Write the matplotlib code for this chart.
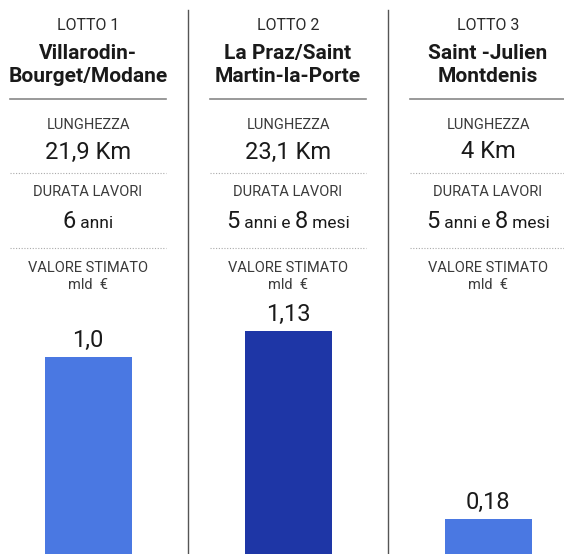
import matplotlib
matplotlib.use("Agg")
import matplotlib.pyplot as plt
import matplotlib.transforms as mtransforms
from matplotlib.offsetbox import TextArea, HPacker, AnnotationBbox

# Data
lotti = ["LOTTO 1", "LOTTO 2", "LOTTO 3"]
nomi = ["Villarodin-\nBourget/Modane", "La Praz/Saint\nMartin-la-Porte", "Saint -Julien\nMontdenis"]
lunghezza = ["21,9 Km", "23,1 Km", "4 Km"]
# durata as (text, big number?) pieces
durata = [
    [("6", True), (" anni", False)],
    [("5", True), (" anni e ", False), ("8", True), (" mesi", False)],
    [("5", True), (" anni e ", False), ("8", True), (" mesi", False)],
]
valori = [1.0, 1.13, 0.18]
valori_lbl = ["1,0", "1,13", "0,18"]
colori = ["#4a78e2", "#1e36a6", "#4a78e2"]

plt.rcParams['font.family'] = ['Roboto', 'DejaVu Sans']

W, H = 564, 554
fig = plt.figure(figsize=(W / 100, H / 100), dpi=100)
ax = fig.add_axes([0, 0, 1, 1])
ax.set_xlim(-0.44, 2.38)
ax.set_ylim(0, 554 / 197)
ax.axis('off')

x = range(len(valori))
ax.bar(x, valori, width=0.435, color=colori, zorder=2)
for i, v in enumerate(valori):
    ax.text(i, v + 0.025, valori_lbl[i], ha='center', va='bottom',
            fontsize=17, color='#1a1a1a')

trans = mtransforms.blended_transform_factory(ax.transData, ax.transAxes)


def yf(py):
    return 1 - py / H


# vertical separators
for sx in [0.5, 1.5]:
    ax.plot([sx, sx], [0, yf(10)], transform=trans, color='#555555', lw=1.0)

lab = dict(fontsize=10.5, color='#3a3a3a')
for i in x:
    ax.text(i, yf(25), lotti[i], transform=trans, ha='center', va='center',
            fontsize=11.5, color='#2a2a2a')
    ax.text(i, yf(65), nomi[i], transform=trans, ha='center', va='center',
            fontsize=15, fontweight='bold', color='#1a1a1a', linespacing=1.25)
    ax.plot([i - 0.39, i + 0.39], [yf(99), yf(99)], transform=trans,
            color='#888888', lw=1.2)
    ax.text(i, yf(125), "LUNGHEZZA", transform=trans, ha='center', va='center', **lab)
    ax.text(i, yf(152), lunghezza[i], transform=trans, ha='center', va='center',
            fontsize=17, color='#1a1a1a')
    ax.plot([i - 0.39, i + 0.39], [yf(173), yf(173)], transform=trans,
            color='#aaaaaa', lw=0.8, ls=(0, (1, 1.5)))
    ax.text(i, yf(192), "DURATA LAVORI", transform=trans, ha='center', va='center', **lab)
    pieces = [TextArea(t, textprops=dict(fontsize=17 if big else 12.5,
                                         color='#1a1a1a'))
              for t, big in durata[i]]
    pack = HPacker(children=pieces, align='baseline', pad=0, sep=0)
    ab = AnnotationBbox(pack, (i, yf(222)), xycoords=trans, frameon=False,
                        box_alignment=(0.5, 0.5))
    ax.add_artist(ab)
    ax.plot([i - 0.39, i + 0.39], [yf(248), yf(248)], transform=trans,
            color='#aaaaaa', lw=0.8, ls=(0, (1, 1.5)))
    ax.text(i, yf(268), "VALORE STIMATO", transform=trans, ha='center', va='center', **lab)
    ax.text(i, yf(285), "mld  €", transform=trans, ha='center', va='center', **lab)

fig.savefig("out.png", dpi=100)
